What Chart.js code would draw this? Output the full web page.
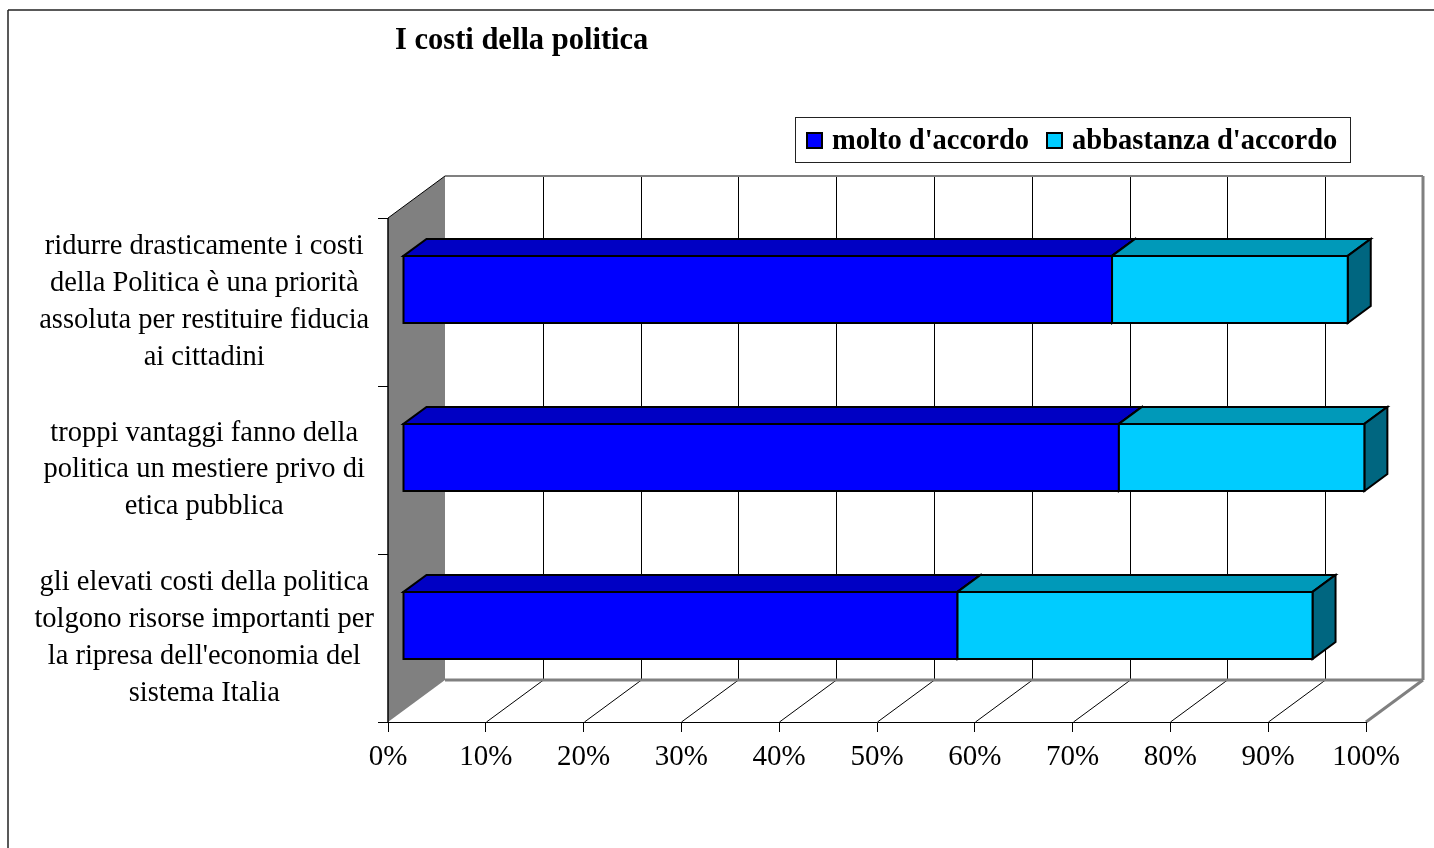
<!DOCTYPE html>
<html>
<head>
<meta charset="utf-8">
<title>I costi della politica</title>
<script src="https://cdn.jsdelivr.net/npm/chart.js@4.4.1/dist/chart.umd.min.js"></script>
<style>
  html, body { margin: 0; padding: 0; background: #fff; }
  #wrap { position: relative; width: 1434px; height: 848px; overflow: hidden; }
  #title {
    position: absolute; left: 395px; top: 22px; line-height: 32px;
    font: bold 30.5px "Liberation Serif", "Times New Roman", serif; color: #000;
    white-space: nowrap;
  }
  #legend {
    position: absolute; left: 795px; top: 117px; width: 544px; height: 44px;
    border: 1px solid #222; display: flex; align-items: center; padding-left: 10px;
    box-sizing: content-box;
    font: bold 28.5px "Liberation Serif", "Times New Roman", serif; color: #000;
  }
  #legend .item { display: flex; align-items: center; margin-right: 17px; white-space: nowrap; }
  #legend .sw { width: 13px; height: 13px; border: 2px solid #000; margin-right: 9px; }
</style>
</head>
<body>
<div id="wrap">
  <canvas id="chart" width="1434" height="848"></canvas>
  <div id="title">I costi della politica</div>
  <div id="legend"></div>
</div>
<script>
// data
const categories = [
  ["ridurre drasticamente i costi", "della Politica è una priorità", "assoluta per restituire fiducia", "ai cittadini"],
  ["troppi vantaggi fanno della", "politica un mestiere privo di", "etica pubblica"],
  ["gli elevati costi della politica", "tolgono risorse importanti per", "la ripresa dell'economia del", "sistema Italia"]
];
const seriesNames = ["molto d'accordo", "abbastanza d'accordo"];
const molto = [72.5, 73.2, 56.7];
const abbastanza = [24.1, 25.1, 36.3];
const tickValues = [0, 10, 20, 30, 40, 50, 60, 70, 80, 90, 100];

// colours for the 3d boxes: front, top, side
const faces = [
  { front: '#0000ff', top: '#0000c4', side: '#00007a' },
  { front: '#00ccff', top: '#0099b9', side: '#006680' }
];

const serif = '"Liberation Serif", "Times New Roman", serif';

// depth of the floor / walls and where the bars sit in it
const WALL = { dx: 57, dy: -42 };
const BAR_FRONT = { dx: 15, dy: -12.5 };
const BAR_DEPTH = { dx: 23, dy: -17 };

function poly(ctx, pts, fill, stroke, lw) {
  ctx.beginPath();
  ctx.moveTo(pts[0][0], pts[0][1]);
  for (let i = 1; i < pts.length; i++) ctx.lineTo(pts[i][0], pts[i][1]);
  ctx.closePath();
  if (fill) { ctx.fillStyle = fill; ctx.fill(); }
  if (stroke) { ctx.strokeStyle = stroke; ctx.lineWidth = lw || 1; ctx.stroke(); }
}

function line(ctx, x1, y1, x2, y2, color, lw) {
  ctx.beginPath();
  ctx.moveTo(x1, y1);
  ctx.lineTo(x2, y2);
  ctx.strokeStyle = color;
  ctx.lineWidth = lw;
  ctx.stroke();
}

const depth3d = {
  id: 'depth3d',
  beforeDraw(chart) {
    const ctx = chart.ctx;
    const a = chart.chartArea;
    const xs = chart.scales.x;
    ctx.save();
    // outer frame
    line(ctx, 8, 10, 8, 848, '#222', 1.5);
    line(ctx, 8, 10, 1434, 10, '#222', 1.5);

    const bl = a.left + WALL.dx, br = a.right + WALL.dx;
    const bt = a.top + WALL.dy, bb = a.bottom + WALL.dy;

    // back wall + floor grid
    tickValues.forEach(v => {
      if (v === 0 || v === 100) return;
      const px = Math.round(xs.getPixelForValue(v)) + 0.5;
      line(ctx, px + WALL.dx, bt, px + WALL.dx, bb, '#000', 1);
      line(ctx, px, a.bottom, px + WALL.dx, bb, '#000', 1);
    });

    // side wall
    poly(ctx, [[a.left, a.top], [bl, bt], [bl, bb], [a.left, a.bottom]], '#808080');

    // grey wall edges
    line(ctx, bl, bt, br, bt, '#808080', 2);
    line(ctx, br, bt, br, bb, '#808080', 3);
    line(ctx, bl, bb, br, bb, '#808080', 3);
    line(ctx, a.right, a.bottom, br, bb, '#808080', 3);

    // black edges of the side wall
    line(ctx, a.left, a.top, a.left, a.bottom, '#000', 1.5);
    line(ctx, a.left, a.top, bl, bt, '#000', 1);
    ctx.restore();
  },
  afterDatasetsDraw(chart) {
    const ctx = chart.ctx;
    ctx.save();
    ctx.lineJoin = 'miter';
    chart.data.datasets.forEach((ds, di) => {
      const f = faces[di];
      chart.getDatasetMeta(di).data.forEach(el => {
        const p = el.getProps(['x', 'y', 'base', 'height'], true);
        const l = Math.min(p.x, p.base) + BAR_FRONT.dx;
        const r = Math.max(p.x, p.base) + BAR_FRONT.dx;
        const t = p.y - p.height / 2 + BAR_FRONT.dy;
        const b = p.y + p.height / 2 + BAR_FRONT.dy;
        poly(ctx, [[l, t], [l + BAR_DEPTH.dx, t + BAR_DEPTH.dy], [r + BAR_DEPTH.dx, t + BAR_DEPTH.dy], [r, t]], f.top, '#000', 2);
        poly(ctx, [[r, t], [r + BAR_DEPTH.dx, t + BAR_DEPTH.dy], [r + BAR_DEPTH.dx, b + BAR_DEPTH.dy], [r, b]], f.side, '#000', 2);
        poly(ctx, [[l, t], [r, t], [r, b], [l, b]], f.front, '#000', 2);
      });
    });
    ctx.restore();
  }
};

const chart = new Chart(document.getElementById('chart'), {
  type: 'bar',
  data: {
    labels: categories,
    datasets: [
      { label: seriesNames[0], data: molto, backgroundColor: 'rgba(0,0,0,0)', borderWidth: 0 },
      { label: seriesNames[1], data: abbastanza, backgroundColor: 'rgba(0,0,0,0)', borderWidth: 0 }
    ]
  },
  options: {
    indexAxis: 'y',
    responsive: false,
    animation: false,
    devicePixelRatio: 1,
    layout: { padding: { top: 218, right: 68, left: 0, bottom: 0 } },
    datasets: { bar: { categoryPercentage: 1, barPercentage: 0.4 } },
    plugins: {
      legend: { display: false },
      title: { display: false },
      tooltip: { enabled: false }
    },
    scales: {
      x: {
        stacked: true,
        min: 0,
        max: 100,
        ticks: {
          stepSize: 10,
          autoSkip: false,
          maxRotation: 0,
          padding: 8,
          color: '#000',
          font: { family: serif, size: 29 },
          callback: v => v + '%'
        },
        grid: { drawOnChartArea: false, drawTicks: true, tickLength: 10, color: '#000' },
        border: { color: '#000', width: 1 },
        afterFit(s) { s.height = 126; }
      },
      y: {
        stacked: true,
        ticks: {
          padding: 4,
          crossAlign: 'center',
          color: '#000',
          font: { family: serif, size: 28.5, lineHeight: 1.29 }
        },
        grid: { offset: true, drawOnChartArea: false, drawTicks: true, tickLength: 10, color: '#000' },
        border: { display: false },
        afterFit(s) { s.width = 388; }
      }
    }
  },
  plugins: [depth3d]
});

// legend
const lg = document.getElementById('legend');
seriesNames.forEach((n, i) => {
  const it = document.createElement('div');
  it.className = 'item';
  const sw = document.createElement('span');
  sw.className = 'sw';
  sw.style.background = faces[i].front;
  it.appendChild(sw);
  it.appendChild(document.createTextNode(n));
  lg.appendChild(it);
});
</script>
</body>
</html>
